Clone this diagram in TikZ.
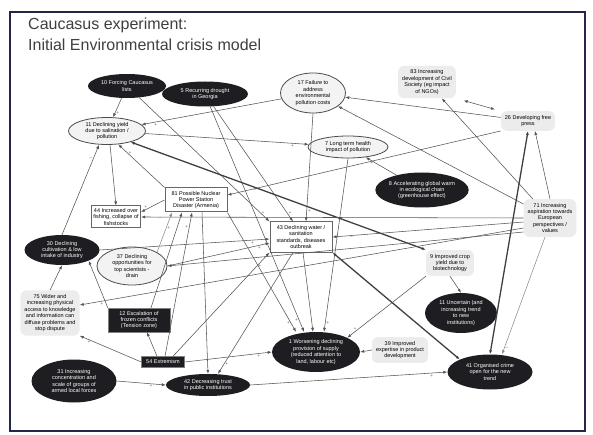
\documentclass[tikz,border=0pt]{standalone}
\usepackage{fontspec}
\setmainfont{Liberation Sans}
\usetikzlibrary{shapes.geometric,arrows.meta}
\definecolor{frame}{HTML}{23264A}
\definecolor{dkfill}{HTML}{1E1E22}
\definecolor{ltfill}{HTML}{F3F3F3}
\definecolor{shfill}{HTML}{ECECEC}
\definecolor{lncol}{HTML}{555555}
\newcommand\ndfont{\fontsize{5.5}{6.4}\selectfont}
\tikzset{
  >={Latex[length=4pt,width=3pt]},
  dk/.style={ellipse, fill=dkfill, text=white, inner sep=0pt, align=center, font=\ndfont},
  lt/.style={ellipse, draw=black!70, fill=ltfill, line width=0.8pt, inner sep=0pt, align=center, font=\ndfont},
  bx/.style={rectangle, draw=black!60, fill=white, line width=1pt, inner sep=2pt, align=center, font=\ndfont},
  dkbx/.style={rectangle, draw=black!50, fill=dkfill, text=white, inner sep=2pt, align=center, font=\ndfont},
  sh/.style={rectangle, rounded corners=6pt, fill=shfill, inner sep=4pt, align=center, font=\ndfont},
  ln/.style={->, draw=lncol, line width=0.55pt},
  tk/.style={<->, draw=black!75, line width=1.3pt},
  sg/.style={font=\fontsize{5}{5}\selectfont, text=black!55, inner sep=1pt}
}
\begin{document}
\begin{tikzpicture}[x=1pt,y=-1pt]
\fill[white] (0,0) rectangle (593,435);
\useasboundingbox (0,0) rectangle (593,435);
\draw[frame, line width=2pt] (10,12) rectangle (585,431);
\node[anchor=base west, font=\fontsize{16}{20}\selectfont, text=black!75, inner sep=0pt] (t1) at (28,30) {Caucasus experiment:};
\node[anchor=base west, font=\fontsize{16}{20}\selectfont, text=black!75, inner sep=0pt] (t2) at (28,51) {Initial Environmental crisis model};

% nodes
\node[dk, minimum width=78pt, minimum height=24pt] (n10) at (127,86) {10 Forcing Caucasus\\lists};
\node[dk, minimum width=86pt, minimum height=25pt] (n5) at (205,94) {5 Recurring drought\\in Georgia};
\node[lt, minimum width=65pt, minimum height=40pt] (n17) at (313,93) {17 Failure to\\address\\environmental\\pollution costs};
\node[lt, minimum width=77pt, minimum height=27pt] (n11) at (107,131) {11 Declining yield\\due to salination /\\pollution};
\node[lt, minimum width=80pt, minimum height=22pt] (n7) at (348,147) {7 Long term health\\impact of pollution};
\node[sh] (n83) at (427,82) {83 Increasing\\development of Civil\\Society (eg impact\\of NGOs)};
\node[sh] (n26) at (528,121) {26 Developing free\\press};
\node[dk, minimum width=92pt, minimum height=35pt] (n8) at (422,190) {8 Accelerating global warm\\in ecological chain\\(greenhouse effect)};
\node[sh] (n71) at (550,218) {71 Increasing\\aspiration towards\\European\\perspectives /\\values};
\node[bx, minimum width=62pt, minimum height=24pt] (n81) at (196,200) {81 Possible Nuclear\\Power Station\\Disaster (Armenia)};
\node[bx, minimum width=48pt, minimum height=22pt] (n44) at (116,217) {44 Increased over\\fishing, collapse of\\fishstocks};
\node[bx, minimum width=62pt, minimum height=30pt] (n43) at (301,237) {43 Declining water /\\sanitation\\standards, diseases\\outbreak};
\node[sh] (n9) at (450,263) {9 Improved crop\\yield due to\\biotechnology};
\node[dk, minimum width=75pt, minimum height=30pt] (n30) at (62,250) {30 Declining\\cultivation \& low\\intake of industry};
\node[lt, minimum width=70pt, minimum height=38pt] (n37) at (132,266) {37 Declining\\opportunities for\\top scientists -\\drain};
\node[sh] (n75) at (50,313) {75 Wider and\\increasing physical\\access to knowledge\\and information can\\diffuse problems and\\stop dispute};
\node[dkbx, minimum width=62pt, minimum height=24pt] (n12) at (139,320) {12 Escalation of\\frozen conflicts\\(Tension zone)};
\node[dkbx, minimum width=43pt, minimum height=11pt, inner sep=1pt] (n54) at (163,362) {54 Extremism};
\node[dk, minimum width=85pt, minimum height=43pt] (n31) at (74,381) {31 Increasing\\concentration and\\scale of groups of\\armed local forces};
\node[dk, minimum width=84pt, minimum height=22pt] (n42) at (208,385) {42 Decreasing trust\\in public institutions};
\node[dk, minimum width=88pt, minimum height=40pt] (n1) at (316,352) {1 Worsening declining\\provision of supply\\(reduced attention to\\land, labour etc)};
\node[sh] (n39) at (400,350) {39 Improved\\expertise in product\\development};
\node[dk, minimum width=72pt, minimum height=40pt] (n11u) at (461,313) {11 Uncertain (and\\increasing trend\\to new\\institutions)};
\node[dk, minimum width=85pt, minimum height=35pt] (n41) at (490,372) {41 Organised crime\\open for the new\\trend};

% connectors
\draw[ln] (n10) -- node[sg, pos=0.8, right]{+} (n11);
\draw[ln] (n10) -- node[sg, pos=0.93, right]{+} (n43.north west);
\draw[ln] (n5) -- node[sg, pos=0.93, right]{+} ([xshift=-8pt]n43.north);
\draw[ln] (n5) -- node[sg, pos=0.95, left]{+} ([xshift=-12pt]n1.north);
\draw[ln] (n17) -- node[sg, pos=0.9, below]{+} (n11);
\draw[ln] (n11) -- node[sg, pos=0.9, below]{+} (n7);
\draw[ln] (n26) -- node[sg, pos=0.85, below]{--} (n17);
\draw[ln] (n71) -- node[sg, pos=0.9, below]{--} (n17);
\draw[ln, <->, shorten <=8pt, shorten >=6pt] (n83.south east) -- (n26.north west);
\draw[ln] (n71) -- (n83);
\draw[tk] (n26.south) -- (n41.north);
\draw[ln] (n71.north) -- ([xshift=7pt]n26.south);
\draw[ln, draw=black!45] ([xshift=-5pt]n71.south) -- node[sg, pos=0.95, right]{--} ([xshift=12pt]n41.north);
\draw[ln] (n17.south) -- node[sg, pos=0.9, right]{+} ([xshift=5pt]n43.north);
\draw[ln] (n7.south) -- node[sg, pos=0.95, right]{+} ([xshift=8pt]n1.north);
\draw[ln] (n8) -- node[sg, pos=0.8, below]{+} (n7);
\draw[ln] ([xshift=3pt]n11.south) -- (n44.north);
\draw[ln] (n30.north) -- node[sg, pos=0.85, left]{--} ([xshift=-8pt]n11.south);
\draw[ln] (n81.north west) -- node[sg, pos=0.8, right]{+} (n11.-50);
\draw[tk] (n11.-25) -- (n9.north west);
\draw[ln] (n81.west) -- node[sg, pos=0.8, above]{+} ([yshift=5pt]n44.east);
\draw[ln] (n71.west) -- node[sg, pos=0.95, below]{--} (n44.east);
\draw[ln] ([yshift=-4pt]n71.west) -- node[sg, pos=0.9, below]{--} (n43.east);
\draw[ln] (n26.south west) -- node[sg, pos=0.9, below]{--} ([yshift=5pt]n81.east);
\draw[tk] (n43.south east) -- (n41.north west);
\draw[ln] (n9.south) -- (n11u.north);
\draw[ln] (n9.south west) -- node[sg, pos=0.9, above]{+} (n1.north east);
\draw[ln] (n42.east) -- node[sg, pos=0.92, below]{+} (n41.west);
\draw[ln] (n31.east) -- node[sg, pos=0.7, below]{+} (n42.west);
\draw[ln] (n54.east) -- node[sg, pos=0.85, below]{+} (n1.west);
\draw[ln] (n39.west) -- (n1.east);
\draw[ln] (n30.east) -- node[sg, pos=0.9, below]{+} ([yshift=-2pt]n43.west);
\draw[ln] (n37.east) -- node[sg, pos=0.9, below]{+} ([yshift=-6pt]n43.west);
\draw[ln] ([yshift=-10pt]n71.west) -- node[sg, pos=0.95, below]{+} ([yshift=8pt]n75.east);
\draw[ln] ([yshift=-14pt]n71.west) -- (n37.east);
\draw[ln] (n75.north) -- (n30.south);
\draw[ln] (n12.north west) -- (n30.south east);
\draw[ln] ([xshift=-6pt]n54.north) -- ([xshift=8pt]n12.south);
\draw[ln] (n54.west) -- node[sg, pos=0.85, below]{+} (n75.south east);
\draw[ln] ([xshift=2pt]n54.north) -- node[sg, pos=0.9, left]{+} ([xshift=-4pt]n81.south);
\draw[ln] ([xshift=10pt]n54.north) -- node[sg, pos=0.9, below]{+} (n43.south west);
\draw[ln] ([xshift=6pt]n81.south) -- (n42.north);
\draw[ln] ([xshift=-8pt]n43.south) -- node[sg, pos=0.92, right]{+} ([xshift=10pt]n42.north);
\draw[ln] (n81.south east) -- node[sg, pos=0.93, left]{+} ([xshift=-20pt]n1.north);
\draw[ln] ([xshift=12pt]n12.north) -- ([xshift=-14pt]n81.south);
\draw[ln, draw=black!45] (n37.north east) -- node[sg, pos=0.6, right]{+} ([xshift=-24pt]n81.south);
\draw[ln] ([xshift=2pt]n43.south) -- ([xshift=-3pt]n1.north);
\end{tikzpicture}
\end{document}
